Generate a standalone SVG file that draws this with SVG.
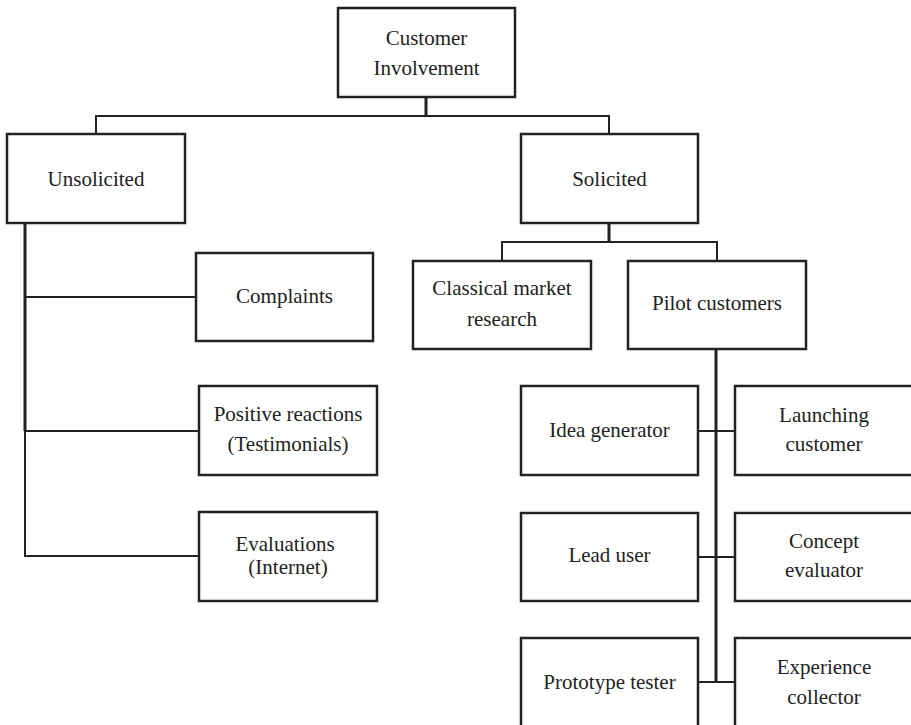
<svg xmlns="http://www.w3.org/2000/svg" width="911" height="725" viewBox="0 0 911 725">
  <style>
    .box { fill: #ffffff; stroke: #222222; stroke-width: 2.5; }
    .lbl { font-family: "Liberation Serif", "Times New Roman", serif; font-size: 21px; fill: #222222; text-anchor: middle; }
    .wire { fill: none; stroke: #222222; stroke-width: 2; }
    .wire-bold { fill: none; stroke: #222222; stroke-width: 3; }
  </style>
  <rect width="911" height="725" fill="#ffffff"/>

  <!-- connectors -->
  <g id="connectors">
    <line class="wire-bold" x1="426" y1="97" x2="426" y2="116"/>
    <polyline class="wire" points="96,134 96,116 609,116 609,134"/>
    <!-- unsolicited branch -->
    <line class="wire-bold" x1="25" y1="223" x2="25" y2="431"/>
    <line class="wire" x1="25" y1="431" x2="25" y2="557"/>
    <line class="wire" x1="25" y1="297" x2="196" y2="297"/>
    <line class="wire" x1="25" y1="431" x2="199" y2="431"/>
    <line class="wire" x1="24" y1="556" x2="199" y2="556"/>
    <!-- solicited branch -->
    <line class="wire-bold" x1="609" y1="223" x2="609" y2="242"/>
    <polyline class="wire" points="502,261 502,242 717,242 717,261"/>
    <!-- pilot customers branch -->
    <line class="wire-bold" x1="716" y1="349" x2="716" y2="683"/>
    <line class="wire" x1="698" y1="431" x2="735" y2="431"/>
    <line class="wire" x1="698" y1="557" x2="735" y2="557"/>
    <line class="wire" x1="698" y1="682" x2="735" y2="682"/>
  </g>

  <g id="customer-involvement">
    <rect class="box" x="338" y="8" width="177" height="89"/>
    <text class="lbl" x="426.5" y="45">Customer</text>
    <text class="lbl" x="426.5" y="75">Involvement</text>
  </g>

  <g id="unsolicited">
    <rect class="box" x="7" y="134" width="178" height="89"/>
    <text class="lbl" x="96" y="186">Unsolicited</text>
  </g>

  <g id="solicited">
    <rect class="box" x="521" y="134" width="177" height="89"/>
    <text class="lbl" x="609.5" y="186">Solicited</text>
  </g>

  <g id="complaints">
    <rect class="box" x="196" y="253" width="177" height="88"/>
    <text class="lbl" x="284.5" y="303">Complaints</text>
  </g>

  <g id="positive-reactions">
    <rect class="box" x="199" y="386" width="178" height="89"/>
    <text class="lbl" x="288" y="421">Positive reactions</text>
    <text class="lbl" x="288" y="451">(Testimonials)</text>
  </g>

  <g id="evaluations">
    <rect class="box" x="199" y="512" width="178" height="89"/>
    <text class="lbl" x="285" y="551">Evaluations</text>
    <text class="lbl" x="288" y="574">(Internet)</text>
  </g>

  <g id="classical-market-research">
    <rect class="box" x="413" y="261" width="178" height="88"/>
    <text class="lbl" x="502" y="295">Classical market</text>
    <text class="lbl" x="502" y="326">research</text>
  </g>

  <g id="pilot-customers">
    <rect class="box" x="628" y="261" width="178" height="88"/>
    <text class="lbl" x="717" y="310">Pilot customers</text>
  </g>

  <g id="idea-generator">
    <rect class="box" x="521" y="386" width="177" height="89"/>
    <text class="lbl" x="609.5" y="437">Idea generator</text>
  </g>

  <g id="launching-customer">
    <rect class="box" x="735" y="386" width="178" height="89"/>
    <text class="lbl" x="824" y="422">Launching</text>
    <text class="lbl" x="824" y="451">customer</text>
  </g>

  <g id="lead-user">
    <rect class="box" x="521" y="513" width="177" height="88"/>
    <text class="lbl" x="609.5" y="562">Lead user</text>
  </g>

  <g id="concept-evaluator">
    <rect class="box" x="735" y="513" width="178" height="88"/>
    <text class="lbl" x="824" y="548">Concept</text>
    <text class="lbl" x="824" y="577">evaluator</text>
  </g>

  <g id="prototype-tester">
    <rect class="box" x="521" y="638" width="177" height="90"/>
    <text class="lbl" x="609.5" y="689">Prototype tester</text>
  </g>

  <g id="experience-collector">
    <rect class="box" x="735" y="638" width="178" height="90"/>
    <text class="lbl" x="824" y="674">Experience</text>
    <text class="lbl" x="824" y="704">collector</text>
  </g>
</svg>
